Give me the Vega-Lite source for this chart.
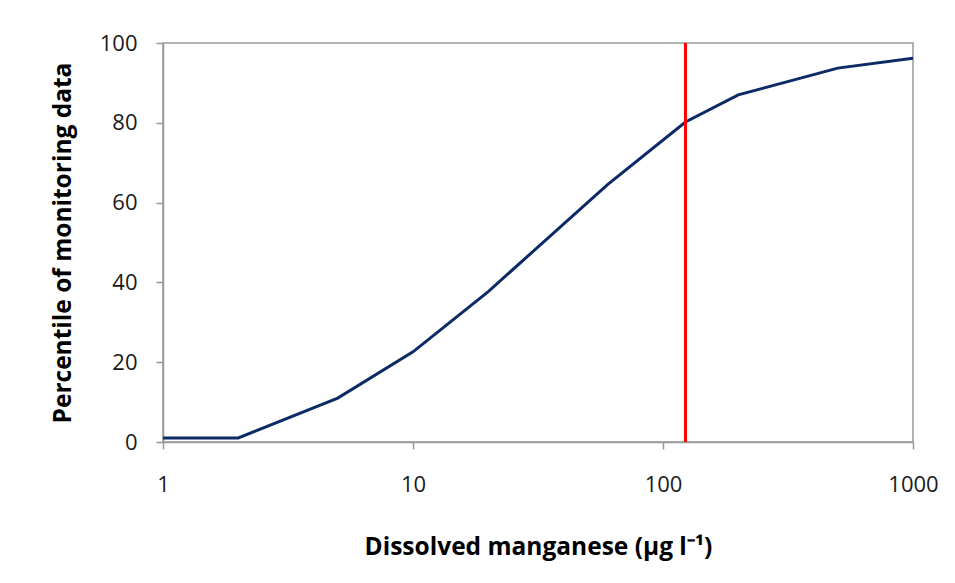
{
  "$schema": "https://vega.github.io/schema/vega-lite/v6.json",
  "width": 750,
  "height": 399,
  "autosize": {"type": "none"},
  "padding": {"left": 163, "top": 43, "right": 42, "bottom": 141},
  "background": "white",
  "config": {
    "view": {"stroke": "#999999", "strokeWidth": 1.5},
    "font": "Open Sans",
    "axis": {
      "grid": false,
      "domainColor": "#999999",
      "domainWidth": 1.5,
      "tickColor": "#999999",
      "tickWidth": 1.5,
      "tickSize": 7,
      "labelFont": "Open Sans",
      "labelFontSize": 22,
      "labelColor": "#1a1a1a",
      "titleFont": "Open Sans",
      "titleFontSize": 24.5,
      "titleFontWeight": "bold",
      "titleColor": "#000000"
    }
  },
  "datasets": {
    "curve": [
      {"mn": 1, "pct": 1},
      {"mn": 2, "pct": 1},
      {"mn": 5, "pct": 11},
      {"mn": 10, "pct": 22.6},
      {"mn": 20, "pct": 37.7},
      {"mn": 60, "pct": 64.5},
      {"mn": 123, "pct": 80.2},
      {"mn": 200, "pct": 87},
      {"mn": 500, "pct": 93.7},
      {"mn": 1000, "pct": 96.2}
    ],
    "limit": [
      {"mn": 123, "lo": 0, "hi": 100}
    ]
  },
  "layer": [
    {
      "data": {"name": "curve"},
      "mark": {"type": "line", "color": "#0c2a66", "strokeWidth": 3, "clip": true},
      "encoding": {
        "x": {
          "field": "mn",
          "type": "quantitative",
          "scale": {"type": "log", "domain": [1, 1000], "nice": false},
          "axis": {
            "values": [1, 10, 100, 1000],
            "format": "d",
            "title": "Dissolved manganese (µg l⁻¹)",
            "labelPadding": 25,
            "titlePadding": 40,
            "labelFlush": false
          }
        },
        "y": {
          "field": "pct",
          "type": "quantitative",
          "scale": {"domain": [0, 100], "nice": false},
          "axis": {
            "values": [0, 20, 40, 60, 80, 100],
            "title": "Percentile of monitoring data",
            "labelPadding": 19,
            "titlePadding": 24
          }
        }
      }
    },
    {
      "data": {"name": "limit"},
      "mark": {"type": "rule", "color": "#ff0000", "strokeWidth": 3},
      "encoding": {
        "x": {"field": "mn", "type": "quantitative"},
        "y": {"field": "lo", "type": "quantitative"},
        "y2": {"field": "hi"}
      }
    }
  ]
}
